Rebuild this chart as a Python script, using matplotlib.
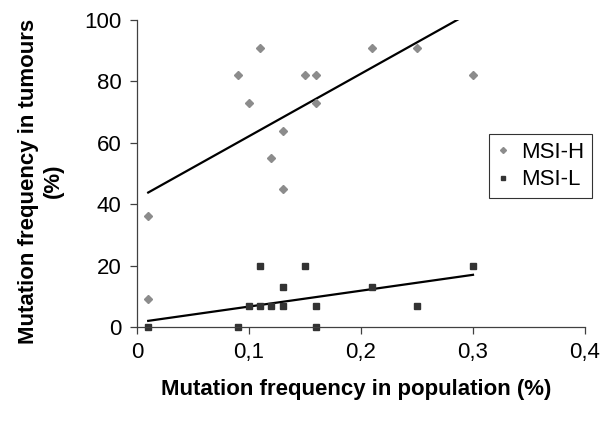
import matplotlib
matplotlib.use("Agg")
import matplotlib.pyplot as plt
import numpy as np

plt.rcParams['font.family'] = ['Liberation Sans', 'DejaVu Sans']

# MSI-H data
h_x = [0.01, 0.01, 0.09, 0.10, 0.11, 0.12, 0.13, 0.13, 0.15, 0.16, 0.16, 0.21, 0.25, 0.30]
h_y = [36, 9, 82, 73, 91, 55, 64, 45, 82, 82, 73, 91, 91, 82]
# MSI-L data
l_x = [0.01, 0.09, 0.10, 0.11, 0.11, 0.12, 0.13, 0.13, 0.15, 0.16, 0.16, 0.21, 0.25, 0.30]
l_y = [0, 0, 7, 20, 7, 7, 13, 7, 20, 7, 0, 13, 7, 20]
# trend line end values (at x = 0.01 and 0.30)
trend_x = [0.01, 0.30]
trend_h = [43.8, 102.9]
trend_l = [2.0, 17.0]

x_ticks = [0, 0.1, 0.2, 0.3, 0.4]
x_labels = ['0', '0,1', '0,2', '0,3', '0,4']
y_ticks = [0, 20, 40, 60, 80, 100]

FS = 16

fig = plt.figure(figsize=(6.01, 4.29), dpi=100)
ax = fig.add_axes([137/601, 1-327/429, (585-137)/601, (327-20)/429])

ax.plot(trend_x, trend_h, color='black', lw=1.6, zorder=1)
ax.plot(trend_x, trend_l, color='black', lw=1.6, zorder=1)
ax.plot(h_x, h_y, 'D', color='#8c8c8c', ms=3.8, mec='#8c8c8c', label='MSI-H', zorder=2)
ax.plot(l_x, l_y, 's', color='#333333', ms=4.4, mec='#333333', label='MSI-L', zorder=2)
for ln in ax.lines[2:]:
    ln.set_clip_on(False)

ax.set_xlim(0, 0.4)
ax.set_ylim(0, 100)
ax.set_xticks(x_ticks)
ax.set_xticklabels(x_labels)
ax.set_yticks(y_ticks)
for s in ['top', 'right']:
    ax.spines[s].set_visible(False)
for s in ['left', 'bottom']:
    ax.spines[s].set_color('#404040')
    ax.spines[s].set_linewidth(0.9)
ax.tick_params(direction='out', length=5, width=0.9, color='#404040', labelsize=FS)
ax.tick_params(axis='y', pad=6)
ax.tick_params(axis='x', pad=6)

ax.set_xlabel('Mutation frequency in population (%)', fontsize=FS, fontweight='bold', labelpad=11)
ax.set_ylabel('Mutation frequency in tumours\n(%)', fontsize=FS, fontweight='bold', labelpad=15, linespacing=1.2)
ax.yaxis.label.set_y(0.475)
ax.xaxis.label.set_x(0.49)

leg = ax.legend(loc='upper left', bbox_to_anchor=(489/601, 1-134/429), bbox_transform=fig.transFigure,
                fontsize=FS, frameon=True, fancybox=False, edgecolor='black', markerscale=0.8,
                handlelength=0.6, handletextpad=0.5, borderpad=0.35, labelspacing=0.3, borderaxespad=0)
leg.get_frame().set_linewidth(0.8)

fig.savefig('out.png', dpi=100)
